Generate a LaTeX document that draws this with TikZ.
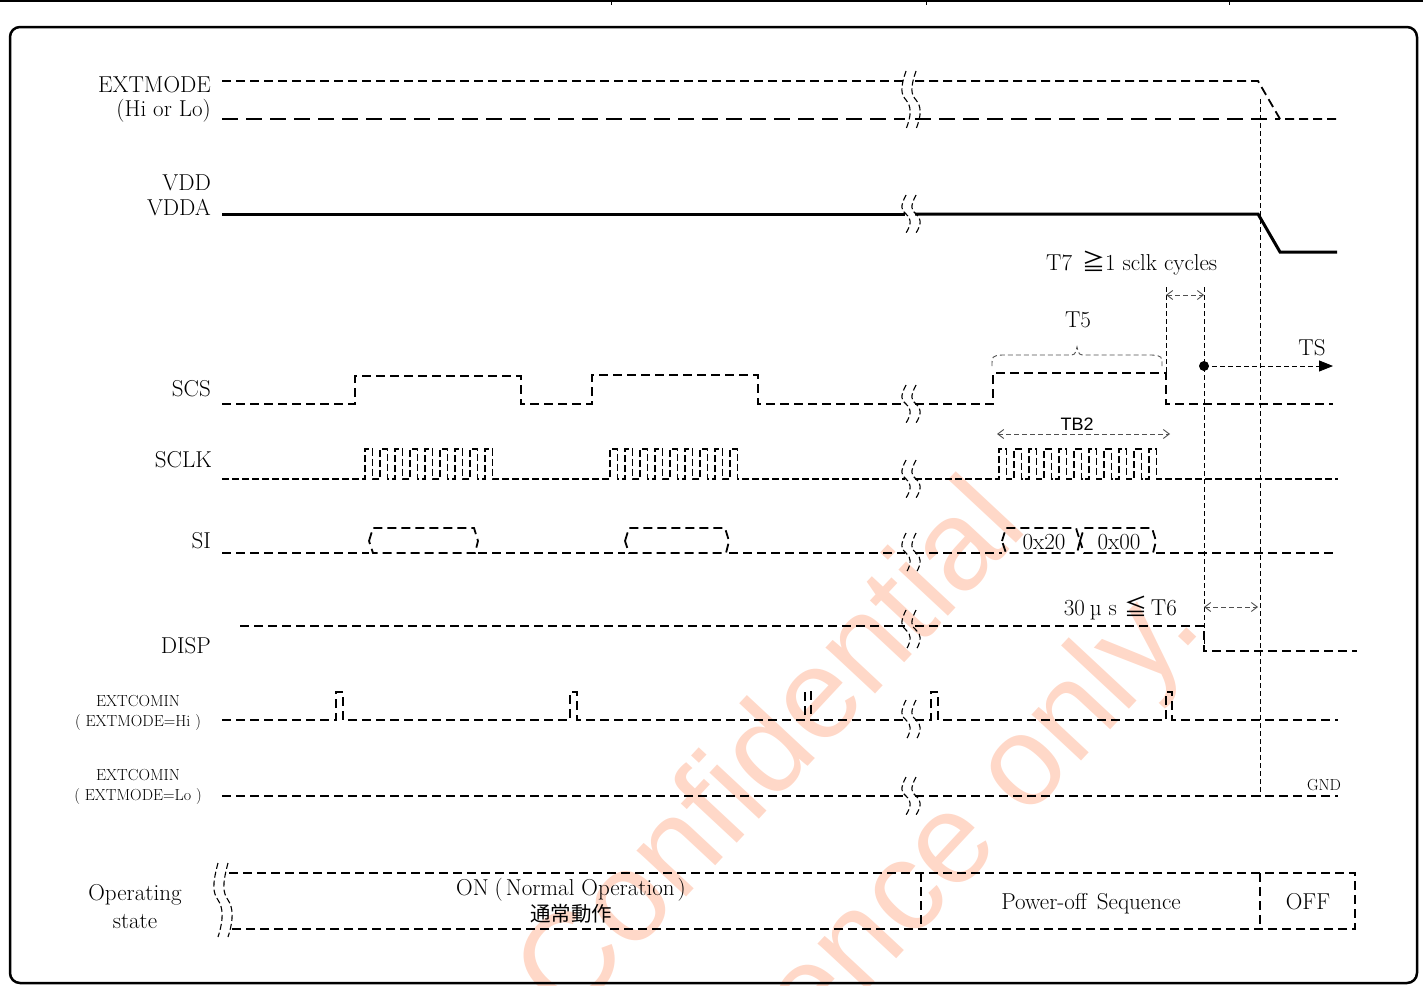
\documentclass[tikz,border=0pt]{standalone}
\usepackage{fontspec}
\newfontfamily\cjk{Noto Sans CJK JP}
\newfontfamily\wmfont{Liberation Sans}
\usetikzlibrary{arrows.meta}
\definecolor{wm}{RGB}{255,216,200}
\definecolor{dg}{RGB}{80,80,80}
\tikzset{
 sig/.style={line width=1.8pt, dash pattern=on 9pt off 5pt},
 sigl/.style={line width=1.8pt, dash pattern=on 16pt off 8pt},
 clk/.style={line width=1.6pt, dash pattern=on 7pt off 3pt},
 thinline/.style={line width=0.9pt, dash pattern=on 5pt off 3pt},
 brkst/.style={line width=1.1pt, dash pattern=on 6pt off 3pt},
 lab/.style={font=\fontsize{23}{26}\selectfont, inner sep=0pt},
 slab/.style={font=\fontsize{16}{18}\selectfont, inner sep=0pt},
 wmark/.style={font=\wmfont\fontsize{128}{128}\selectfont, text=wm, inner sep=0pt, rotate=47},
 barbs/.style={{Straight Barb[length=6pt,width=9pt]}-{Straight Barb[length=6pt,width=9pt]}},
}
\newcommand{\brkmark}[3]{%
 \foreach \a in {-5,5}{%
  \draw[brkst] ({#1+\a+1},{#2-#3}) .. controls ({#1+\a-5},{#2-0.4*#3}) and ({#1+\a-4},{#2-0.2*#3}) .. ({#1+\a+1},{#2}) .. controls ({#1+\a+6},{#2+0.2*#3}) and ({#1+\a+7},{#2+0.5*#3}) .. ({#1+\a+1},{#2+#3});
 }}
\begin{document}
\begin{tikzpicture}[x=1pt,y=-1pt]
\useasboundingbox (0,0) rectangle (1423,985);
% watermark
\begin{scope}
\clip (0,0) rectangle (1423,985);
\node[wmark] (wm1) at (766,745) {Confidential};
\node[wmark] (wm2) at (878,930) {Reference only.};
\end{scope}
% top rule and frame
\draw[line width=2.5pt] (0,1) -- (1423,1);
\foreach \t in {611,926,1229} \draw[line width=1pt] (\t,0) -- (\t,5);
\draw[line width=2.5pt, rounded corners=10pt] (10,27) rectangle (1417,983);

% labels
\node[lab, anchor=base east] (lextm) at (211,92) {EXTMODE};
\node[lab, anchor=base east] (lhilo) at (211,116) {(Hi or Lo)};
\node[lab, anchor=base east] (lvdd) at (211,190) {VDD};
\node[lab, anchor=base east] (lvdda) at (211,215) {VDDA};
\node[lab, anchor=base east] (lscs) at (211,396) {SCS};
\node[lab, anchor=base east] (lsclk) at (212,467) {SCLK};
\node[lab, anchor=base east] (lsi) at (211,548) {SI};
\node[lab, anchor=base east] (ldisp) at (211,653) {DISP};
\node[slab, anchor=base] (lec1) at (138,706) {EXTCOMIN};
\node[slab, anchor=base] (lec1b) at (138,726) {( EXTMODE=Hi )};
\node[slab, anchor=base] (lec2) at (138,780) {EXTCOMIN};
\node[slab, anchor=base] (lec2b) at (138,800) {( EXTMODE=Lo )};
\node[lab, anchor=base] (lop) at (135,900) {Operating};
\node[lab, anchor=base] (lst) at (135,928) {state};

% EXTMODE
\draw[sig] (222,81) -- (905,81);
\draw[sig] (915,81) -- (1258,81) -- (1280,119) -- (1338,119);
\draw[sigl] (222,119) -- (905,119);
\draw[sigl] (915,119) -- (1280,119);
\brkmark{910}{100}{29}
% VDD
\draw[line width=3pt] (222,214) -- (905,214);
\draw[line width=3pt] (915,214) -- (1258,214) -- (1280,252) -- (1337,252);
\brkmark{910}{214}{19}
% SCS
\draw[sig] (222,404) -- (355,404) -- (355,376) -- (521,376) -- (521,404) -- (592,404) -- (592,375) -- (758,375) -- (758,404) -- (905,404);
\draw[sig] (915,404) -- (993,404) -- (993,373) -- (1166,373) -- (1166,404) -- (1333,404);
\brkmark{910}{404}{19}
% SCLK
\draw[clk] (222,479) -- (365,479) \foreach \i in {1,...,9}{ -- ++(0,-30) -- ++(7.5,0) -- ++(0,30) -- ++(7.5,0)} -- (610,479)
  \foreach \i in {1,...,9}{ -- ++(0,-30) -- ++(7.5,0) -- ++(0,30) -- ++(7.5,0)} -- (905,479);
\draw[clk] (915,479) -- (999,479) \foreach \i in {1,...,11}{ -- ++(0,-30) -- ++(7.5,0) -- ++(0,30) -- ++(7.5,0)} -- (1338,479);
\brkmark{910}{479}{19}
% SI
\draw[sig] (222,553) -- (369,553);
\draw[sig] (369,541) -- (373,528) -- (474,528) -- (478,541) -- (475,553) -- (373,553) -- cycle;
\draw[sig] (478,553) -- (625,553);
\draw[sig] (625,541) -- (629,528) -- (725,528) -- (729,541) -- (726,553) -- (629,553) -- cycle;
\draw[sig] (729,553) -- (905,553);
\draw[sig] (915,553) -- (1002,553);
\draw[sig] (1002,541) -- (1006,528) -- (1076,528) -- (1080,541) -- (1077,553) -- (1006,553) -- cycle;
\draw[sig] (1080,541) -- (1084,528) -- (1152,528) -- (1156,541) -- (1153,553) -- (1084,553) -- cycle;
\draw[sig] (1156,553) -- (1333,553);
\node[lab, anchor=base] (v20) at (1044,549) {0x20};
\node[lab, anchor=base] (v00) at (1119,549) {0x00};
\brkmark{910}{553}{20}
% DISP
\draw[sig] (240,626) -- (905,626);
\draw[sig] (915,626) -- (1204,626) -- (1204,651) -- (1357,651);
\brkmark{910}{630}{20}
% EXTCOMIN Hi
\draw[sig] (222,720) -- (336,720) -- (336,692) -- (343,692) -- (343,720) -- (570,720) -- (570,692) -- (577,692) -- (577,720)
  -- (805,720) -- (805,692) -- (811,692) -- (811,720) -- (905,720);
\draw[sig] (915,720) -- (931,720) -- (931,692) -- (938,692) -- (938,720) -- (1166,720) -- (1166,692) -- (1172,692) -- (1172,720) -- (1338,720);
\brkmark{910}{720}{20}
% EXTCOMIN Lo
\draw[sig] (222,796) -- (905,796);
\draw[sig] (915,796) -- (1338,796);
\brkmark{910}{796}{19}
\node[slab, anchor=base] (gnd) at (1324,790) {GND};

% timing markers
\draw[thinline] (1260,99) -- (1260,797);
\draw[thinline] (1166,287) -- (1166,373);
\draw[thinline] (1204,287) -- (1204,651);
\draw[thinline, dg, barbs] (1166,295) -- (1204,295);
\node[lab, anchor=base west] (t7) at (1046,270) {T7\hspace{10pt}{\cjk ≧}1 sclk cycles};
\node[lab, anchor=base] (t5) at (1078,327) {T5};
\draw[thinline, dg] (992,366) .. controls (992,356) .. (1002,355) -- (1068,355) .. controls (1075,355) .. (1077,347) .. controls (1079,355) .. (1086,355) -- (1152,355) .. controls (1162,356) .. (1162,366);
\fill (1204,366) circle (5);
\draw[thinline, -{Triangle[length=14pt,width=11pt]}] (1204,366) -- (1333,366);
\node[lab, anchor=base] (ts) at (1312,355) {TS};
\draw[thinline, dg, barbs] (997,434) -- (1170,434);
\node[font=\wmfont\fontsize{18}{20}\selectfont, inner sep=0pt, anchor=base] (tb2) at (1077,430) {TB2};
\node[lab, anchor=base east] (t6) at (1177,615) {30\hspace{5pt}µ\hspace{7pt}s\hspace{8pt}{\cjk ≦}\hspace{3pt}T6};
\draw[thinline, dg, barbs] (1204,607) -- (1258,607);

% operating state
\draw[sig] (229,873) -- (1355,873) -- (1355,929) -- (229,929);
\draw[sig] (921,873) -- (921,929);
\draw[sig] (1260,873) -- (1260,929);
\brkmark{222}{900}{37}
\node[lab, anchor=base] (on) at (571,895) {ON\hspace{6pt}(\hspace{3pt}Normal Operation\hspace{3pt})};
\node[font=\cjk\fontsize{20.5}{22}\selectfont, inner sep=0pt, anchor=base] (jp) at (571,921) {通常動作};
\node[lab, anchor=base] (poff) at (1091,909) {Power-off\hspace{10pt}Sequence};
\node[lab, anchor=base] (off) at (1308,909) {OFF};
\end{tikzpicture}
\end{document}
